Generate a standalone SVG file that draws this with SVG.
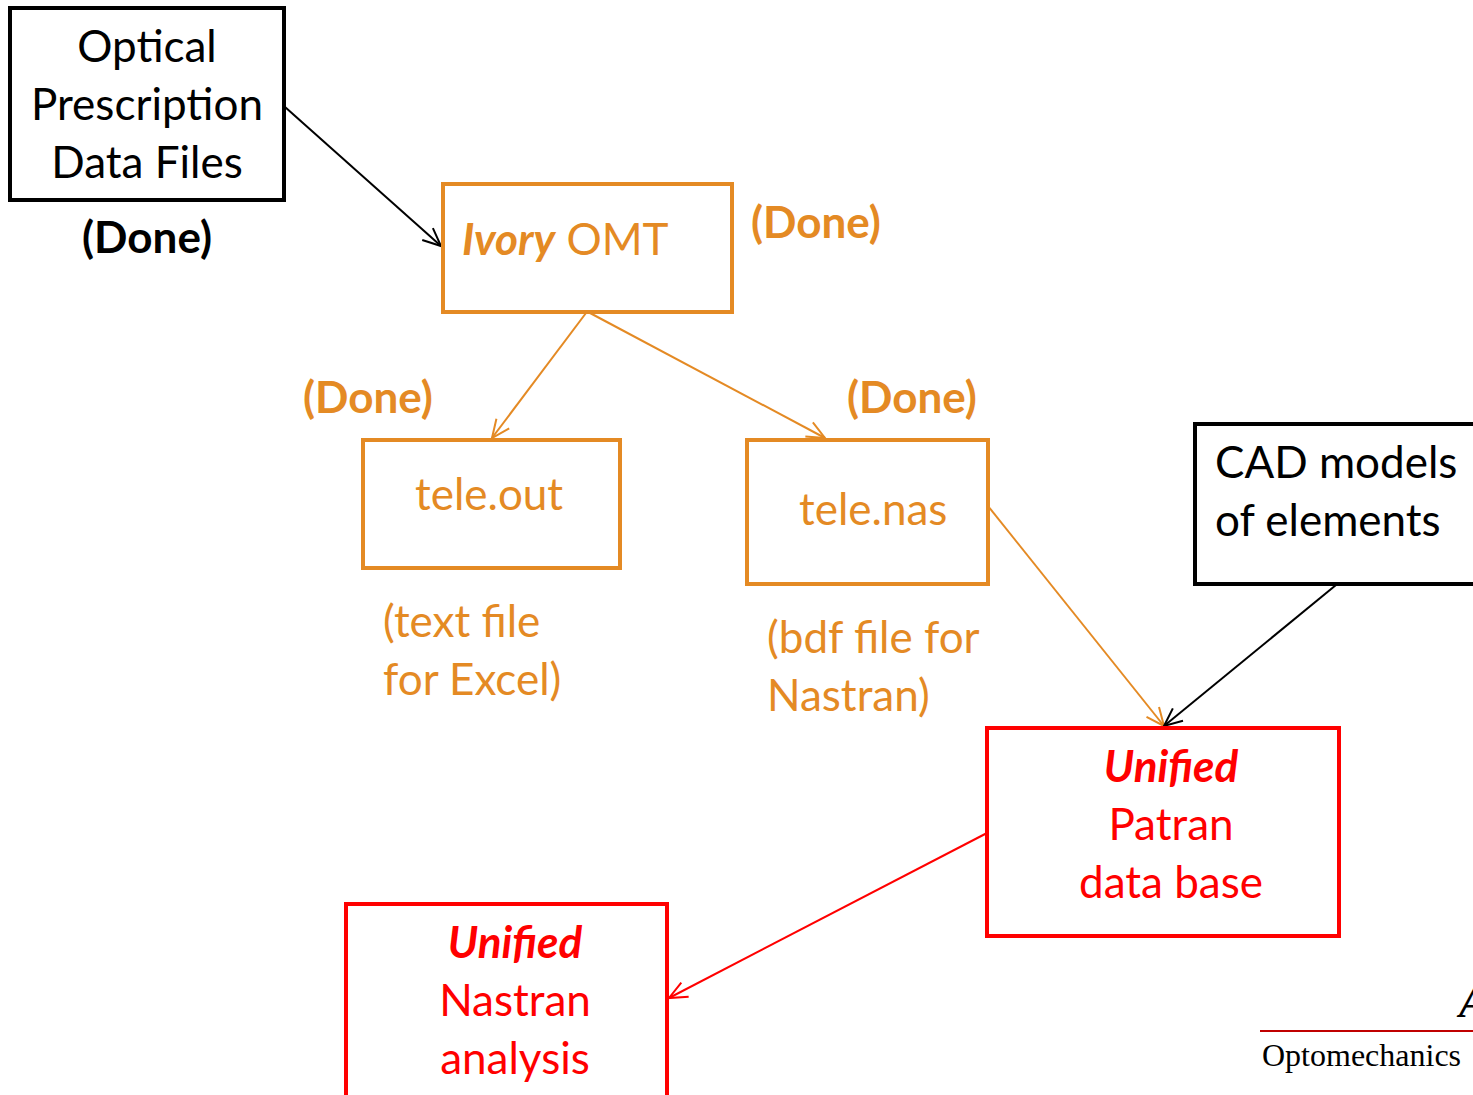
<svg xmlns="http://www.w3.org/2000/svg" width="1473" height="1095" viewBox="0 0 1473 1095">
<style>
.t{font-family:Lato,"Open Sans",sans-serif;font-size:44px}
.c{text-anchor:middle}
.b{font-weight:bold}
.bi{font-weight:bold;font-style:italic}
.k{fill:#000}
.o{fill:#E48A24}
.r{fill:#FF0000}
.box{fill:#fff;stroke-width:4}
.ln{fill:none;stroke-width:2}
</style>
<defs>
<marker id="ak" markerUnits="userSpaceOnUse" markerWidth="30" markerHeight="30" refX="20" refY="10" orient="auto" viewBox="0 0 30 20"><path d="M2,2 L20,10 L2,18" fill="none" stroke="#000" stroke-width="2"/></marker>
<marker id="ao" markerUnits="userSpaceOnUse" markerWidth="30" markerHeight="30" refX="20" refY="10" orient="auto" viewBox="0 0 30 20"><path d="M2,2 L20,10 L2,18" fill="none" stroke="#E48A24" stroke-width="2"/></marker>
<marker id="ar" markerUnits="userSpaceOnUse" markerWidth="30" markerHeight="30" refX="20" refY="10" orient="auto" viewBox="0 0 30 20"><path d="M2,2 L20,10 L2,18" fill="none" stroke="#FF0000" stroke-width="2"/></marker>
</defs>
<g id="connectors">
<line class="ln" stroke="#000" x1="285" y1="107" x2="441" y2="246" marker-end="url(#ak)"/>
<line class="ln" stroke="#E48A24" x1="586" y1="313" x2="492" y2="438" marker-end="url(#ao)"/>
<line class="ln" stroke="#E48A24" x1="590" y1="313" x2="825" y2="438" marker-end="url(#ao)"/>
<line class="ln" stroke="#E48A24" x1="988" y1="506" x2="1164" y2="726" marker-end="url(#ao)"/>
<line class="ln" stroke="#000" x1="1336" y1="585" x2="1164" y2="726" marker-end="url(#ak)"/>
<line class="ln" stroke="#FF0000" x1="987" y1="833" x2="669" y2="998" marker-end="url(#ar)"/>
</g>
<g id="optical">
<rect class="box" stroke="#000" x="10" y="8" width="274" height="192"/>
<text class="t c k" x="147" y="62">Optical</text>
<text class="t c k" x="147" y="120">Prescription</text>
<text class="t c k" x="147" y="178">Data Files</text>
<text class="t c b k" x="147" y="253">(Done)</text>
</g>
<g id="ivory">
<rect class="box" stroke="#E48A24" x="443" y="184" width="289" height="128"/>
<text class="t o" x="462" y="255"><tspan class="bi">Ivory</tspan> OMT</text>
<text class="t b o" x="751" y="238">(Done)</text>
</g>
<g id="teleout">
<rect class="box" stroke="#E48A24" x="363" y="440" width="257" height="128"/>
<text class="t o" x="415" y="510">tele.out</text>
<text class="t b o" x="303" y="413">(Done)</text>
<text class="t o" x="383" y="637">(text file</text>
<text class="t o" x="383" y="695">for Excel)</text>
</g>
<g id="telenas">
<rect class="box" stroke="#E48A24" x="747" y="440" width="241" height="144"/>
<text class="t o" x="799" y="525">tele.nas</text>
<text class="t b o" x="847" y="413">(Done)</text>
<text class="t o" x="767" y="653">(bdf file for</text>
<text class="t o" x="767" y="711">Nastran)</text>
</g>
<g id="cad">
<rect class="box" stroke="#000" x="1195" y="424" width="290" height="160"/>
<text class="t k" x="1215" y="478">CAD models</text>
<text class="t k" x="1215" y="536">of elements</text>
</g>
<g id="patran">
<rect class="box" stroke="#FF0000" x="987" y="728" width="352" height="208"/>
<text class="t c bi r" x="1171" y="782">Unified</text>
<text class="t c r" x="1171" y="840">Patran</text>
<text class="t c r" x="1171" y="898">data base</text>
</g>
<g id="nastran">
<rect class="box" stroke="#FF0000" x="346" y="904" width="321" height="200"/>
<text class="t c bi r" x="515" y="958">Unified</text>
<text class="t c r" x="515" y="1016">Nastran</text>
<text class="t c r" x="515" y="1074">analysis</text>
</g>
<g id="footer">
<line x1="1260" y1="1031" x2="1473" y2="1031" stroke="#C00000" stroke-width="2"/>
<text x="1262" y="1066" style="font-family:'Liberation Serif',serif;font-size:32px" fill="#000">Optomechanics</text>
<text x="1459" y="1017" style="font-family:'Liberation Serif',serif;font-size:44px;font-style:italic;font-weight:bold" fill="#000">A</text>
</g>
</svg>
